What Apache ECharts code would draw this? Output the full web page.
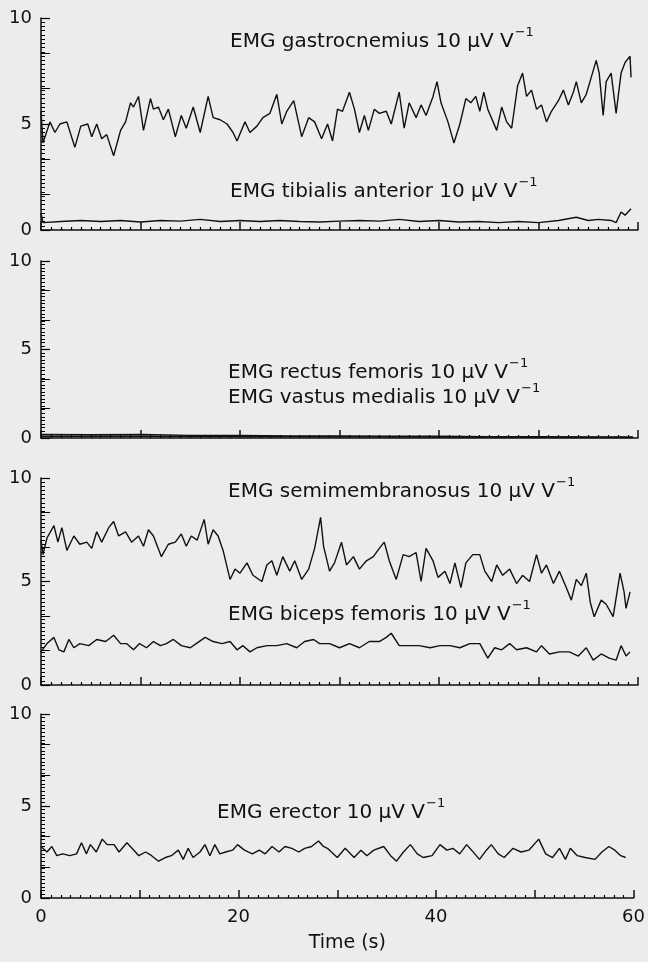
<!DOCTYPE html>
<html>
<head>
<meta charset="utf-8">
<script src="https://cdn.jsdelivr.net/npm/echarts@6/dist/echarts.min.js"></script>
<style>
  html, body { margin: 0; padding: 0; background: #ececec; }
  #chart { width: 648px; height: 962px; }
</style>
</head>
<body>
<div id="chart"></div>
<script>
// values: [time s, 10 uV/V units]
var gastroc = [[0,5.6],[0.2,4.1],[0.9,5.1],[1.4,4.6],[1.9,5.0],[2.6,5.1],[3.4,3.9],[4.0,4.9],[4.7,5.0],[5.1,4.4],[5.6,5.0],[6.1,4.3],[6.6,4.5],[7.3,3.5],[8.0,4.7],[8.5,5.1],[9.0,6.0],[9.3,5.8],[9.8,6.3],[10.3,4.7],[11.0,6.2],[11.3,5.7],[11.8,5.8],[12.3,5.2],[12.8,5.7],[13.5,4.4],[14.1,5.4],[14.6,4.8],[15.3,5.8],[16.0,4.6],[16.8,6.3],[17.3,5.3],[18.0,5.2],[18.7,5.0],[19.3,4.6],[19.7,4.2],[20.5,5.1],[21.0,4.6],[21.7,4.9],[22.3,5.3],[23.0,5.5],[23.7,6.4],[24.2,5.0],[24.7,5.6],[25.4,6.1],[26.2,4.4],[26.9,5.3],[27.5,5.1],[28.2,4.3],[28.8,5.0],[29.3,4.2],[29.8,5.7],[30.3,5.6],[31.0,6.5],[31.5,5.7],[32.0,4.6],[32.5,5.4],[32.9,4.7],[33.5,5.7],[34.0,5.5],[34.7,5.6],[35.2,5.0],[36.0,6.5],[36.5,4.8],[37.0,6.0],[37.7,5.3],[38.2,5.9],[38.7,5.4],[39.4,6.3],[39.8,7.0],[40.2,6.0],[40.9,5.1],[41.5,4.1],[42.1,5.0],[42.7,6.2],[43.2,6.0],[43.7,6.3],[44.1,5.6],[44.5,6.5],[44.9,5.7],[45.8,4.7],[46.3,5.8],[46.8,5.1],[47.3,4.8],[47.9,6.8],[48.4,7.4],[48.8,6.3],[49.3,6.6],[49.8,5.7],[50.3,5.9],[50.8,5.1],[51.3,5.6],[52.0,6.1],[52.5,6.6],[53.0,5.9],[53.5,6.5],[53.8,7.0],[54.3,6.0],[54.8,6.4],[55.3,7.2],[55.8,8.0],[56.1,7.4],[56.5,5.4],[56.8,7.0],[57.3,7.4],[57.8,5.5],[58.3,7.4],[58.7,7.9],[59.2,8.2],[59.3,7.2]];
var tibialis = [[0,0.8],[0.2,0.35],[2,0.4],[4,0.45],[6,0.4],[8,0.45],[10,0.38],[12,0.45],[14,0.42],[16,0.5],[18,0.4],[20,0.45],[22,0.4],[24,0.45],[26,0.4],[28,0.38],[30,0.42],[32,0.45],[34,0.42],[36,0.5],[38,0.4],[40,0.45],[42,0.38],[44,0.4],[46,0.35],[48,0.4],[50,0.35],[52,0.45],[53.8,0.6],[55,0.45],[56,0.5],[57.3,0.45],[57.8,0.35],[58.3,0.85],[58.7,0.7],[59.3,1.0]];
var rectus = [[0,0.2],[5,0.18],[10,0.2],[15,0.15],[20,0.15],[25,0.12],[30,0.12],[35,0.1],[40,0.1],[45,0.08],[50,0.08],[55,0.06],[59.5,0.06]];
var vastus = [[0,0.1],[10,0.1],[20,0.08],[30,0.07],[40,0.05],[50,0.04],[59.5,0.03]];
var semimem = [[0,7.0],[0.2,6.3],[0.6,7.1],[1.3,7.7],[1.7,6.9],[2.1,7.6],[2.6,6.5],[3.3,7.2],[3.9,6.8],[4.6,6.9],[5.1,6.6],[5.6,7.4],[6.1,6.9],[6.8,7.6],[7.3,7.9],[7.8,7.2],[8.5,7.4],[9.1,6.9],[9.8,7.2],[10.3,6.7],[10.8,7.5],[11.3,7.2],[12.1,6.2],[12.8,6.8],[13.5,6.9],[14.1,7.3],[14.6,6.7],[15.1,7.2],[15.7,7.0],[16.4,8.0],[16.8,6.8],[17.3,7.5],[17.8,7.2],[18.3,6.5],[19.0,5.1],[19.5,5.6],[20.0,5.4],[20.7,5.9],[21.3,5.3],[22.2,5.0],[22.7,5.8],[23.2,6.0],[23.7,5.3],[24.3,6.2],[25.0,5.5],[25.5,6.0],[26.2,5.1],[26.9,5.6],[27.5,6.6],[28.1,8.1],[28.4,6.7],[29.0,5.5],[29.5,5.9],[30.2,6.9],[30.7,5.8],[31.4,6.2],[32.0,5.6],[32.7,6.0],[33.4,6.2],[34.0,6.6],[34.5,6.9],[35.0,6.0],[35.7,5.1],[36.4,6.3],[37.0,6.2],[37.7,6.4],[38.2,5.0],[38.7,6.6],[39.4,6.0],[39.9,5.2],[40.6,5.5],[41.1,4.9],[41.6,5.9],[42.2,4.7],[42.7,5.9],[43.4,6.3],[44.1,6.3],[44.6,5.5],[45.3,5.0],[45.8,5.8],[46.4,5.3],[47.1,5.6],[47.8,4.9],[48.4,5.3],[49.1,5.0],[49.8,6.3],[50.3,5.4],[50.8,5.8],[51.5,4.9],[52.1,5.5],[52.8,4.7],[53.3,4.1],[53.8,5.1],[54.3,4.8],[54.8,5.4],[55.2,4.0],[55.6,3.3],[56.3,4.1],[56.8,3.9],[57.5,3.3],[58.2,5.4],[58.6,4.5],[58.8,3.7],[59.2,4.5]];
var biceps = [[0,1.6],[0.6,2.0],[1.3,2.3],[1.8,1.7],[2.3,1.6],[2.8,2.2],[3.3,1.8],[3.9,2.0],[4.8,1.9],[5.6,2.2],[6.5,2.1],[7.3,2.4],[8.0,2.0],[8.6,2.0],[9.3,1.7],[9.9,2.0],[10.6,1.8],[11.3,2.1],[12.0,1.9],[12.6,2.0],[13.3,2.2],[14.1,1.9],[15.0,1.8],[15.6,2.0],[16.5,2.3],[17.3,2.1],[18.2,2.0],[19.0,2.1],[19.7,1.7],[20.3,1.9],[21.0,1.6],[21.7,1.8],[22.7,1.9],[23.7,1.9],[24.7,2.0],[25.7,1.8],[26.5,2.1],[27.4,2.2],[28.0,2.0],[29.0,2.0],[30.0,1.8],[31.0,2.0],[32.0,1.8],[33.0,2.1],[34.0,2.1],[34.7,2.3],[35.2,2.5],[36.0,1.9],[37.0,1.9],[38.0,1.9],[39.1,1.8],[40.1,1.9],[41.1,1.9],[42.1,1.8],[43.1,2.0],[44.1,2.0],[44.9,1.3],[45.6,1.8],[46.3,1.7],[47.1,2.0],[47.8,1.7],[48.8,1.8],[49.8,1.6],[50.3,1.9],[51.1,1.5],[52.1,1.6],[53.1,1.6],[54.0,1.4],[54.8,1.8],[55.5,1.2],[56.3,1.5],[57.1,1.3],[57.8,1.2],[58.3,1.9],[58.8,1.4],[59.2,1.6]];
var erector = [[0,2.8],[0.6,2.5],[1.1,2.8],[1.6,2.3],[2.2,2.4],[2.9,2.3],[3.6,2.4],[4.1,3.0],[4.6,2.4],[5.0,2.9],[5.6,2.5],[6.2,3.2],[6.7,2.9],[7.4,2.9],[7.9,2.5],[8.7,3.0],[9.4,2.6],[9.9,2.3],[10.6,2.5],[11.2,2.3],[11.9,2.0],[12.6,2.2],[13.2,2.3],[13.9,2.6],[14.4,2.1],[14.9,2.7],[15.4,2.2],[16.1,2.5],[16.6,2.9],[17.1,2.3],[17.6,2.9],[18.1,2.4],[18.7,2.5],[19.4,2.6],[19.9,2.9],[20.6,2.6],[21.4,2.4],[22.1,2.6],[22.7,2.4],[23.4,2.8],[24.1,2.5],[24.7,2.8],[25.4,2.7],[26.1,2.5],[26.7,2.7],[27.4,2.8],[28.1,3.1],[28.6,2.8],[29.0,2.7],[30.0,2.2],[30.8,2.7],[31.7,2.2],[32.4,2.6],[33.0,2.3],[33.7,2.6],[34.7,2.8],[35.4,2.3],[36.0,2.0],[36.7,2.5],[37.4,2.9],[38.1,2.4],[38.7,2.2],[39.6,2.3],[40.4,2.9],[41.1,2.6],[41.7,2.7],[42.4,2.4],[43.1,2.9],[43.6,2.6],[44.4,2.1],[45.1,2.6],[45.6,2.9],[46.3,2.4],[46.9,2.2],[47.8,2.7],[48.6,2.5],[49.4,2.6],[50.4,3.2],[51.1,2.4],[51.8,2.2],[52.5,2.7],[53.1,2.1],[53.6,2.7],[54.3,2.3],[55.1,2.2],[56.1,2.1],[56.8,2.5],[57.5,2.8],[58.1,2.6],[58.7,2.3],[59.2,2.2]];

var xTickLabels = [0, 20, 40, 60];
var captions = [
  'EMG gastrocnemius 10 μV V',
  'EMG tibialis anterior 10 μV V',
  'EMG rectus femoris 10 μV V',
  'EMG vastus medialis 10 μV V',
  'EMG semimembranosus 10 μV V',
  'EMG biceps femoris 10 μV V',
  'EMG erector 10 μV V'
];

var FONT = 'DejaVu Sans';
var INK = '#111111';

// layout of the four stacked panels
var panels = [
  {top: 18, height: 212},
  {top: 261, height: 177},
  {top: 478, height: 207},
  {top: 714, height: 184}
];
var captionPos = [[230, 42], [230, 192], [228, 373], [228, 398], [228, 492], [228, 615], [217, 813]];

var chart = echarts.init(document.getElementById('chart'));

function makeX(i) {
  var last = i === panels.length - 1;
  return {
    type: 'value', gridIndex: i, min: 0, max: 60, interval: 10,
    axisLine: {lineStyle: {color: INK, width: 1.5}},
    axisTick: {inside: true, length: 8, lineStyle: {color: INK, width: 1.5}},
    minorTick: {show: true, splitNumber: 10, length: 3, lineStyle: {color: '#000', width: 1.2}},
    splitLine: {show: false},
    axisLabel: {
      show: last, fontFamily: FONT, fontSize: 18, color: INK, margin: 10,
      formatter: function (v) { return xTickLabels.indexOf(v) >= 0 ? String(v) : ''; }
    },
    name: last ? 'Time (s)' : '',
    nameLocation: 'middle', nameGap: 36,
    nameTextStyle: {fontFamily: FONT, fontSize: 19, color: INK, padding: [0, 0, 0, 20]}
  };
}

function makeY(i) {
  return {
    type: 'value', gridIndex: i, position: 'left', min: 0, max: 10, interval: 5,
    axisLine: {show: true, lineStyle: {color: INK, width: 1.5}},
    axisTick: {show: true, inside: true, length: 9, lineStyle: {color: INK, width: 1.2}},
    splitLine: {show: false},
    axisLabel: {fontFamily: FONT, fontSize: 18, color: INK, margin: 9}
  };
}

// label-less helper axes on the same side: one for the comb of short
// ticks, one for the longer intermediate ticks
function makeYTicks(i, step, len) {
  return {
    type: 'value', gridIndex: i, position: 'left', offset: 0,
    min: 0, max: 10, interval: step,
    axisLine: {show: false},
    axisTick: {show: true, inside: true, length: len, lineStyle: {color: '#000', width: 1}},
    axisLabel: {show: false},
    splitLine: {show: false}
  };
}

function trace(data, i) {
  return {
    type: 'line', data: data, xAxisIndex: i, yAxisIndex: i,
    showSymbol: false, symbol: 'none', silent: true,
    lineStyle: {color: INK, width: 1.4}
  };
}

var ctx = document.createElement('canvas').getContext('2d');
ctx.font = '20px "' + FONT + '"';
var graphics = [];
captions.forEach(function (c, k) {
  var p = captionPos[k];
  var w = ctx.measureText(c).width;
  graphics.push({type: 'text', x: p[0], y: p[1],
    style: {text: c, fontFamily: FONT, fontSize: 20, fill: INK, verticalAlign: 'middle'}});
  graphics.push({type: 'text', x: p[0] + w + 1, y: p[1] - 9,
    style: {text: '−1', fontFamily: FONT, fontSize: 13, fill: INK, verticalAlign: 'middle'}});
});

var xAxes = [], yAxes = [], yComb = [], yLong = [];
panels.forEach(function (p, i) {
  xAxes.push(makeX(i));
  yAxes.push(makeY(i));
  yComb.push(makeYTicks(i, 0.2, 4));
  yLong.push(makeYTicks(i, 10 / 6, 9));
});

chart.setOption({
  backgroundColor: '#ececec',
  animation: false,
  grid: panels.map(function (p) {
    return {left: 41, right: 10, top: p.top, height: p.height};
  }),
  xAxis: xAxes,
  yAxis: yAxes.concat(yComb, yLong),
  series: [
    trace(gastroc, 0), trace(tibialis, 0),
    trace(rectus, 1), trace(vastus, 1),
    trace(semimem, 2), trace(biceps, 2),
    trace(erector, 3)
  ],
  graphic: graphics
});
</script>
</body>
</html>
